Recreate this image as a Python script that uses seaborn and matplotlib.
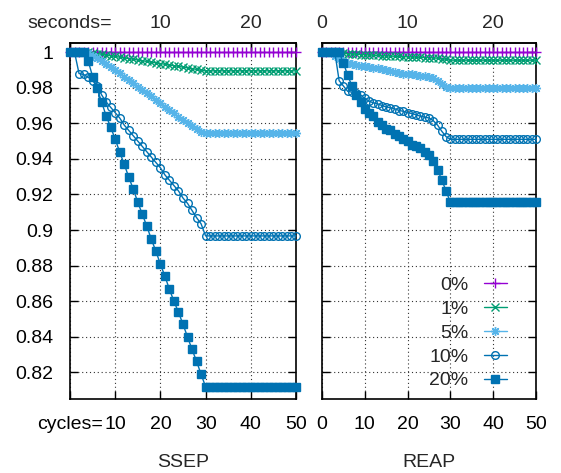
import numpy as np
import pandas as pd
import matplotlib
matplotlib.use("Agg")
import matplotlib.pyplot as plt
import seaborn as sns

sns.set_style("ticks")
plt.rcParams['font.family'] = ['Liberation Sans', 'DejaVu Sans']

cycles = list(range(51))
series_labels = ["0%", "1%", "5%", "10%", "20%"]

ssep_0 = [1.0] * 51
ssep_1 = [1.0, 1.0, 1.0, 1.0, 1.0, 0.9996, 0.9992, 0.9988, 0.9984, 0.998,
          0.9976, 0.9972, 0.9968, 0.9964, 0.996, 0.9956, 0.9952, 0.9948, 0.9944, 0.994,
          0.9936, 0.9932, 0.9928, 0.9924, 0.992, 0.9916, 0.9912, 0.9908, 0.9903, 0.9898,
          0.9895, 0.9895, 0.9895, 0.9895, 0.9895, 0.9895, 0.9895, 0.9895, 0.9895, 0.9895,
          0.9895, 0.9895, 0.9895, 0.9895, 0.9895, 0.9895, 0.9895, 0.9895, 0.9895, 0.9895,
          0.9895]
ssep_5 = [1.0, 1.0, 1.0, 1.0, 0.9995, 0.998, 0.9965, 0.995, 0.9933, 0.9916,
          0.990, 0.9882, 0.9863, 0.9845, 0.9826, 0.9807, 0.9788, 0.977, 0.9751, 0.9732,
          0.9713, 0.9694, 0.9675, 0.9656, 0.9637, 0.9619, 0.960, 0.9584, 0.9568, 0.9553,
          0.9548, 0.9548, 0.9548, 0.9548, 0.9548, 0.9548, 0.9548, 0.9548, 0.9548, 0.9548,
          0.9548, 0.9548, 0.9548, 0.9548, 0.9548, 0.9548, 0.9548, 0.9548, 0.9548, 0.9548,
          0.9548]
ssep_10 = [1.0, 1.0, 0.988, 0.9875, 0.986, 0.984, 0.981, 0.976, 0.972, 0.969,
           0.966, 0.963, 0.959, 0.956, 0.953, 0.950, 0.947, 0.944, 0.941, 0.938,
           0.935, 0.931, 0.928, 0.925, 0.922, 0.918, 0.915, 0.911, 0.907, 0.9035,
           0.8967, 0.8967, 0.8967, 0.8967, 0.8967, 0.8967, 0.8967, 0.8967, 0.8967, 0.8967,
           0.8967, 0.8967, 0.8967, 0.8967, 0.8967, 0.8967, 0.8967, 0.8967, 0.8967, 0.8967,
           0.8967]
ssep_20 = [1.0, 1.0, 1.0, 1.0, 0.9953, 0.9863, 0.9798, 0.9719, 0.9642, 0.9578,
           0.9511, 0.9438, 0.937, 0.9297, 0.923, 0.9156, 0.9089, 0.9021, 0.8948, 0.8881,
           0.8808, 0.874, 0.8667, 0.8599, 0.8538, 0.847, 0.8399, 0.8329, 0.8262, 0.8189,
           0.8119, 0.8119, 0.8119, 0.8119, 0.8119, 0.8119, 0.8119, 0.8119, 0.8119, 0.8119,
           0.8119, 0.8119, 0.8119, 0.8119, 0.8119, 0.8119, 0.8119, 0.8119, 0.8119, 0.8119,
           0.8119]

reap_0 = [1.0] * 51
reap_1 = [1.0, 1.0, 1.0, 1.0, 0.9995, 0.9993, 0.9991, 0.999, 0.9988, 0.9987,
          0.9985, 0.9984, 0.9983, 0.9982, 0.998, 0.9979, 0.9978, 0.9977, 0.9976, 0.9975,
          0.9974, 0.9973, 0.9972, 0.9971, 0.997, 0.9969, 0.9968, 0.9966, 0.9963, 0.996,
          0.9955, 0.9955, 0.9955, 0.9955, 0.9955, 0.9955, 0.9955, 0.9955, 0.9955, 0.9955,
          0.9955, 0.9955, 0.9955, 0.9955, 0.9955, 0.9955, 0.9955, 0.9955, 0.9955, 0.9955,
          0.9955]
reap_5 = [1.0, 1.0, 1.0, 0.998, 0.996, 0.995, 0.994, 0.9935, 0.993, 0.9925,
          0.992, 0.9915, 0.991, 0.991, 0.9905, 0.990, 0.9895, 0.989, 0.9885, 0.988,
          0.9878, 0.9875, 0.987, 0.9868, 0.9865, 0.986, 0.9855, 0.984, 0.982, 0.9805,
          0.9798, 0.9798, 0.9798, 0.9798, 0.9798, 0.9798, 0.9798, 0.9798, 0.9798, 0.9798,
          0.9798, 0.9798, 0.9798, 0.9798, 0.9798, 0.9798, 0.9798, 0.9798, 0.9798, 0.9798,
          0.9798]
reap_10 = [1.0, 1.0, 1.0, 1.0, 0.984, 0.981, 0.978, 0.9775, 0.9772, 0.976,
           0.974, 0.9725, 0.9715, 0.971, 0.970, 0.9692, 0.9688, 0.9682, 0.9672, 0.9668,
           0.966, 0.9655, 0.9648, 0.964, 0.9635, 0.963, 0.9615, 0.959, 0.9555, 0.9525,
           0.951, 0.951, 0.951, 0.951, 0.951, 0.951, 0.951, 0.951, 0.951, 0.951,
           0.951, 0.951, 0.951, 0.951, 0.951, 0.951, 0.951, 0.951, 0.951, 0.951,
           0.951]
reap_20 = [1.0, 1.0, 1.0, 1.0, 1.0, 0.994, 0.987, 0.981, 0.976, 0.972,
           0.968, 0.966, 0.964, 0.961, 0.959, 0.957, 0.956, 0.954, 0.953, 0.951,
           0.950, 0.948, 0.947, 0.946, 0.944, 0.942, 0.939, 0.934, 0.928, 0.922,
           0.9155, 0.9155, 0.9155, 0.9155, 0.9155, 0.9155, 0.9155, 0.9155, 0.9155, 0.9155,
           0.9155, 0.9155, 0.9155, 0.9155, 0.9155, 0.9155, 0.9155, 0.9155, 0.9155, 0.9155,
           0.9155]

y_ticks = [0.82, 0.84, 0.86, 0.88, 0.90, 0.92, 0.94, 0.96, 0.98, 1.0]
y_ticklabels = ["0.82", "0.84", "0.86", "0.88", "0.9", "0.92", "0.94", "0.96", "0.98", "1"]
x_ticks = [0, 10, 20, 30, 40, 50]
ssep_xlabels = ["cycles=", "10", "20", "30", "40", "50"]
reap_xlabels = ["0", "10", "20", "30", "40", "50"]
sec_ticks = [0, 10, 20]
ssep_seclabels = ["seconds=", "10", "20"]
reap_seclabels = ["0", "10", "20"]

colors = ["#9400D3", "#009E73", "#56B4E9", "#0072B2", "#0072B2"]
markers = ["+", "x", (8, 2, 0), "o", "s"]
msizes = [6.5, 5.5, 6.5, 5.5, 5.5]
facecols = [None, None, None, "none", "#0072B2"]

fig = plt.figure(figsize=(5.61, 4.73), dpi=100)
fig.patch.set_facecolor("white")
axL = fig.add_axes([70 / 561, 74 / 473, 226 / 561, 355.7 / 473])
axR = fig.add_axes([322 / 561, 74 / 473, 214 / 561, 355.7 / 473])

FS = 14

def draw(ax, data, with_label):
    for i, vals in enumerate(data):
        df = pd.DataFrame({"cycle": cycles, "value": vals})
        kw = dict(color=colors[i], marker=markers[i], markersize=msizes[i],
                  markeredgecolor=colors[i], markeredgewidth=1.0, linewidth=1.0,
                  clip_on=False, zorder=3 + i)
        if facecols[i] is not None:
            kw["markerfacecolor"] = facecols[i]
        if with_label:
            kw["label"] = series_labels[i]
        sns.lineplot(data=df, x="cycle", y="value", ax=ax, legend=False, **kw)

draw(axL, [ssep_0, ssep_1, ssep_5, ssep_10, ssep_20], False)
draw(axR, [reap_0, reap_1, reap_5, reap_10, reap_20], True)

for ax, xl, secl, name in [(axL, ssep_xlabels, ssep_seclabels, "SSEP"),
                           (axR, reap_xlabels, reap_seclabels, "REAP")]:
    ax.set_xlim(0, 50)
    ax.set_ylim(0.805, 1.005)
    ax.set_xticks(x_ticks)
    ax.set_xticklabels(xl)
    ax.set_yticks(y_ticks)
    if ax is axL:
        ax.set_yticklabels(y_ticklabels)
    else:
        ax.set_yticklabels([])
    ax.tick_params(axis="both", direction="in", top=True, right=True,
                   length=6, width=1, labelsize=FS, colors="black")
    ax.tick_params(axis="x", pad=12)
    ax.tick_params(axis="y", pad=12)
    ax.grid(True, linestyle=(0, (1, 2.5)), color="#333333", linewidth=0.8)
    for s in ax.spines.values():
        s.set_linewidth(1.2)
        s.set_color("black")
    ax.set_xlabel(name, fontsize=FS, labelpad=15)
    ax.set_ylabel("")
    sec = ax.secondary_xaxis("top", functions=(lambda c: c / 2, lambda s: s * 2))
    sec.set_xticks(sec_ticks)
    sec.set_xticklabels(secl)
    sec.tick_params(axis="x", direction="in", length=6, width=1, labelsize=FS, pad=8)
    sec.spines["top"].set_linewidth(1.2)

handles, labels = axR.get_legend_handles_labels()
leg = axR.legend(handles, labels, loc="lower right", bbox_to_anchor=(0.864, 0.027),
                 frameon=False, markerfirst=False, handlelength=1.2, handletextpad=0.77,
                 labelspacing=0.32, borderpad=0, borderaxespad=0, fontsize=FS)
for vp in leg._legend_handle_box.get_children():
    vp.align = "right"

fig.savefig("out.png", dpi=100, facecolor="white")
